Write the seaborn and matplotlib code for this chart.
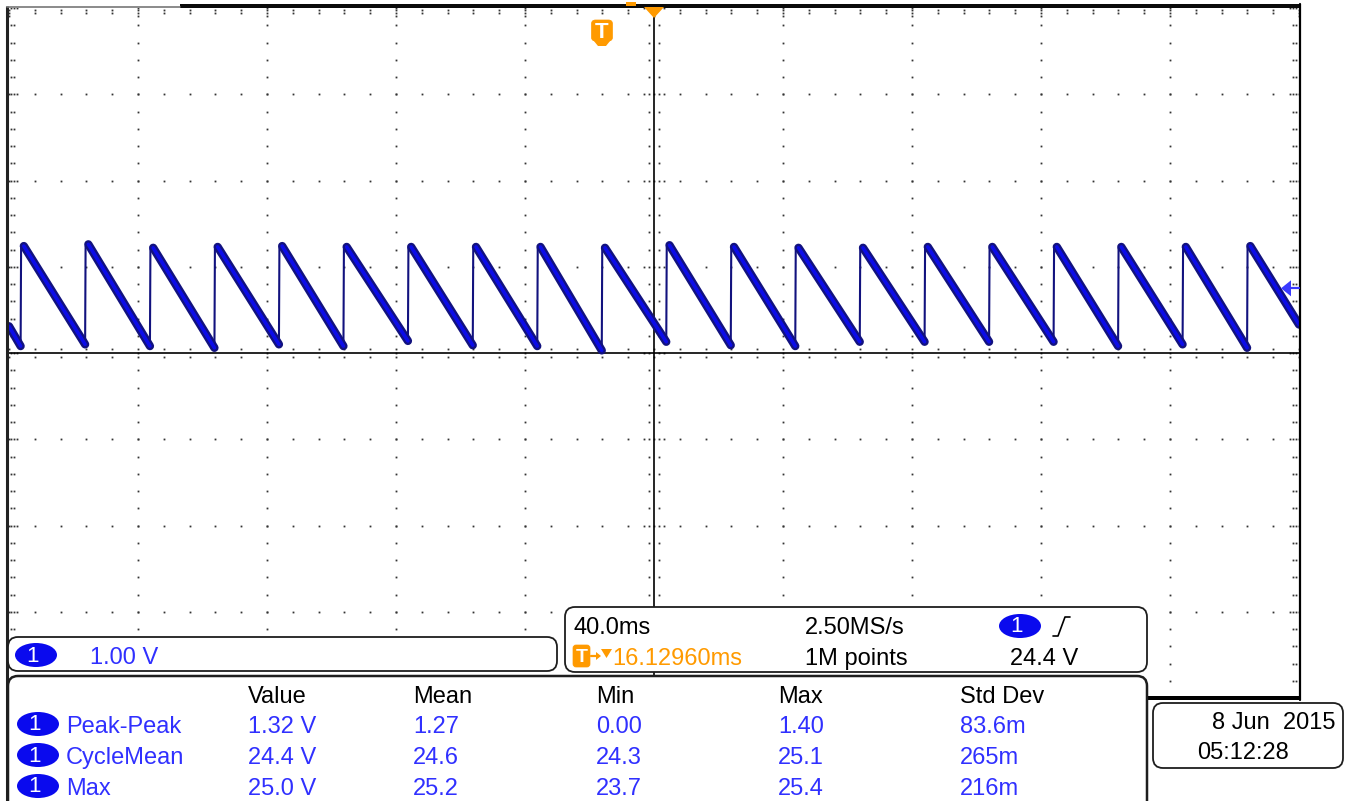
import numpy as np
import pandas as pd
import matplotlib
matplotlib.use("Agg")
import matplotlib.pyplot as plt
import seaborn as sns
from matplotlib.patches import FancyBboxPatch, Ellipse, Polygon, Rectangle

# ---------------- data ----------------
# rising-edge times of the sawtooth (ms, relative to screen centre)
edge_t_ms = [-196.4, -176.4, -156.3, -136.3, -116.3, -96.3, -76.3, -56.2, -36.2, -16.2,
             3.8, 23.8, 43.8, 63.8, 83.9, 103.9, 123.9, 143.9, 163.9, 183.9]
# trace level right after each rising edge (V)
peak_v = [24.89, 24.91, 24.87, 24.88, 24.89, 24.88, 24.88, 24.88, 24.88, 24.87,
          24.90, 24.88, 24.87, 24.87, 24.88, 24.88, 24.88, 24.88, 24.88, 24.89]
# trace level just before each rising edge (V)
trough_v = [23.73, 23.75, 23.73, 23.71, 23.75, 23.73, 23.79, 23.74, 23.73, 23.68,
            23.78, 23.74, 23.73, 23.78, 23.78, 23.78, 23.78, 23.73, 23.75, 23.71]
start_v = 23.96   # level at left screen edge
end_v = 23.98     # level at right screen edge

center_v = 23.65      # screen centre level (V)
volts_per_div = 1.00
ms_per_div = 40.0
n_xdiv, n_ydiv = 10, 8
trig_level_v = 24.4
trig_pos_ms = -16.1296

ch_scale = "1.00 V"
tb_scale = "40.0ms"
tb_rate = "2.50MS/s"
tb_delay = "16.12960ms"
tb_points = "1M points"
trig_text = "24.4 V"
date_text = "8 Jun  2015"
time_text = "05:12:28"

meas_names = ["Peak-Peak", "CycleMean", "Max"]
meas_headers = ["Value", "Mean", "Min", "Max", "Std Dev"]
meas_value = ["1.32 V", "24.4 V", "25.0 V"]
meas_mean = ["1.27", "24.6", "25.2"]
meas_min = ["0.00", "24.3", "23.7"]
meas_max = ["1.40", "25.1", "25.4"]
meas_std = ["83.6m", "265m", "216m"]

# ---------------- style ----------------
sns.set_theme(style="white")
FONT = ["Liberation Sans", "DejaVu Sans"]
plt.rcParams["font.family"] = FONT

TRACE_DARK = "#12127e"
TRACE_MID = "#0c0ce8"
TXT_BLUE = "#3030ff"
BADGE = "#0a0aee"
ORANGE = "#ff9a00"
DOT = "#333333"

W, H = 1349, 801
AX_L, AX_R, AX_T, AX_B = 9, 1299, 8, 698

fig = plt.figure(figsize=(W / 100, H / 100), dpi=100)
fig.patch.set_facecolor("white")
ax = fig.add_axes([AX_L / W, 1 - AX_B / H, (AX_R - AX_L) / W, (AX_B - AX_T) / H])
t0, t1 = -ms_per_div * n_xdiv / 2, ms_per_div * n_xdiv / 2
v0, v1 = center_v - volts_per_div * n_ydiv / 2, center_v + volts_per_div * n_ydiv / 2
sx = (t1 - t0) / (AX_R - AX_L)   # ms per pixel
sy = (v1 - v0) / (AX_B - AX_T)   # V per pixel

# ---------------- graticule ----------------
minor_t = np.arange(t0, t1 + 1e-6, ms_per_div / 5)
minor_v = np.arange(v0, v1 + 1e-6, volts_per_div / 5)
major_t = np.arange(t0 + ms_per_div, t1 - 1e-6, ms_per_div)
major_v = np.arange(v0 + volts_per_div, v1 - 1e-6, volts_per_div)
gx, gy = [], []
for t in major_t:
    if abs(t) > 1e-6:
        gx += [t] * len(minor_v); gy += list(minor_v)
for v in major_v:
    if abs(v - center_v) > 1e-6:
        gx += list(minor_t); gy += [v] * len(minor_t)
# centre-axis ticks
for t in minor_t:
    for o in (-4, 4):
        gx.append(t); gy.append(center_v + o * sy)
for v in minor_v:
    offs = (-5, 5, -10, 10) if abs(((v - v0) / volts_per_div) - round((v - v0) / volts_per_div)) < 1e-6 else (-5, 5)
    for o in offs:
        gx.append(o * sx); gy.append(v)
# edge ticks
for v in minor_v:
    is_major = abs(((v - v0) / volts_per_div) - round((v - v0) / volts_per_div)) < 1e-6
    for o in ((1.5, 4.5, 7.5) if is_major else (1.5, 4.5)):
        gx.append(t0 + o * sx); gy.append(v)
        gx.append(t1 - (o + 2) * sx); gy.append(v)
for t in minor_t:
    is_major = abs(((t - t0) / ms_per_div) - round((t - t0) / ms_per_div)) < 1e-6
    for o in ((2, 5, 8) if is_major else (2, 5)):
        gx.append(t); gy.append(v1 - o * sy)
ax.plot(gx, gy, ls="none", marker="s", ms=1.3, mew=0, color=DOT, zorder=1)
ax.axhline(center_v, color="black", lw=1.2, zorder=2)
ax.axvline(0, color="black", lw=1.2, zorder=2)

# ---------------- waveform ----------------
rise_dt = 1.0
fall_rows, rise_rows = [], []
fall_rows += [(t0, start_v, 0), (edge_t_ms[0], trough_v[0], 0)]
for k in range(len(edge_t_ms)):
    nxt_t = edge_t_ms[k + 1] if k + 1 < len(edge_t_ms) else t1
    nxt_v = trough_v[k + 1] if k + 1 < len(edge_t_ms) else end_v
    fall_rows += [(edge_t_ms[k] + rise_dt, peak_v[k], k + 1), (nxt_t, nxt_v, k + 1)]
    rise_rows += [(edge_t_ms[k], trough_v[k], k), (edge_t_ms[k] + 0.15, peak_v[k] - 0.02, k),
                  (edge_t_ms[k] + rise_dt, peak_v[k], k)]
fall_df = pd.DataFrame(fall_rows, columns=["t", "v", "seg"])
rise_df = pd.DataFrame(rise_rows, columns=["t", "v", "seg"])

sns.lineplot(data=rise_df, x="t", y="v", units="seg", estimator=None, sort=False,
             color=TRACE_DARK, lw=1.5, ax=ax, legend=False, zorder=3)
sns.lineplot(data=fall_df, x="t", y="v", units="seg", estimator=None, sort=False,
             color=TRACE_DARK, lw=6.0, ax=ax, legend=False, zorder=4,
             solid_capstyle="round")
sns.lineplot(data=fall_df, x="t", y="v", units="seg", estimator=None, sort=False,
             color=TRACE_MID, lw=2.6, ax=ax, legend=False, zorder=5,
             solid_capstyle="round")

ax.set_xlim(t0, t1)
ax.set_ylim(v0, v1)
ax.set_xlabel("")
ax.set_ylabel("")
ax.set_xticks([])
ax.set_yticks([])
for s in ax.spines.values():
    s.set_visible(False)
ax.set_facecolor("white")

# ---------------- overlay (pixel coordinates) ----------------
ov = fig.add_axes([0, 0, 1, 1])
ov.set_xlim(0, W)
ov.set_ylim(H, 0)
ov.axis("off")
ov.patch.set_alpha(0)

def px_x(t):
    return AX_L + (t - t0) / sx

def px_y(v):
    return AX_T + (v1 - v) / sy

# frame
ov.plot([6.5, 6.5], [6, H], color="#222222", lw=2.2, solid_capstyle="butt")
ov.plot([6.5, 180], [6.5, 6.5], color="#777777", lw=1.2)
ov.add_patch(Rectangle((180, 3.5), AX_R + 1 - 180, 4.2, color="#0a0a0a", lw=0))
ov.add_patch(Rectangle((626, 2.2), 10, 4, color=ORANGE, lw=0))
ov.plot([AX_R + 0.5, AX_R + 0.5], [4, AX_B + 2], color="black", lw=1.6)
ov.add_patch(Rectangle((9, AX_B - 2.5), AX_R - 9 + 1.5, 4.5, color="black", lw=0))

# trigger position markers
cx = px_x(0)
ov.add_patch(Polygon([(cx - 10, 7), (cx + 10, 7), (cx, 18)], closed=True, color=ORANGE, lw=0))
tx = px_x(trig_pos_ms)
ov.add_patch(FancyBboxPatch((tx - 10.5, 20), 21, 21, boxstyle="round,pad=0,rounding_size=4",
                            fc=ORANGE, ec=ORANGE, lw=0.5))
ov.add_patch(Polygon([(tx - 10.5, 38), (tx + 10.5, 38), (tx + 4, 46), (tx - 4, 46)],
                     closed=True, color=ORANGE, lw=0))
ov.text(tx, 33, "T", color="white", fontsize=16, fontweight="bold", ha="center",
        va="center", family=FONT)

# trigger level arrow (right)
ty = px_y(trig_level_v)
ov.add_patch(Polygon([(1281, ty), (1291, ty - 8), (1291, ty + 8)], closed=True,
                     color="#3a3aff", lw=0))
ov.plot([1290, AX_R], [ty, ty], color="#3a3aff", lw=1.6)

BOX_EC = "#1e1e1e"

def rbox(x0, y0, x1, y1, lw=1.3, r=10):
    ov.add_patch(FancyBboxPatch((x0, y0), x1 - x0, y1 - y0,
                                boxstyle=f"round,pad=0,rounding_size={r}",
                                fc="white", ec=BOX_EC, lw=lw, zorder=5))

def badge(cx_, cy_, w=42, h=24):
    ov.add_patch(Ellipse((cx_, cy_), w, h, color=BADGE, lw=0, zorder=6))
    ov.text(cx_ - 3, cy_ + 1, "1", color="white", fontsize=16, ha="center", va="center",
            family=FONT, zorder=7)

FS = 17
# measurement box
rbox(8, 676, 1147, 812, lw=1.8)
# channel box
rbox(8, 637, 557, 671)
badge(36, 655)
ov.text(90, 664, ch_scale, color=TXT_BLUE, fontsize=FS, ha="left", va="baseline",
        family=FONT, zorder=7)
# timebase box
rbox(565, 607, 1147, 672)
ov.text(573, 634, tb_scale, color="black", fontsize=FS, ha="left", va="baseline", family=FONT, zorder=7)
ov.text(805, 634, tb_rate, color="black", fontsize=FS, ha="left", va="baseline", family=FONT, zorder=7)
badge(1020, 626)
ov.plot([1053, 1058, 1065, 1070], [636, 636, 617, 617], color="black", lw=1.2, zorder=7)
ov.add_patch(FancyBboxPatch((573, 645), 17, 22, boxstyle="round,pad=0,rounding_size=3",
                            fc=ORANGE, ec=ORANGE, lw=0.5, zorder=6))
ov.text(581.5, 657, "T", color="white", fontsize=14, fontweight="bold", ha="center",
        va="center", family=FONT, zorder=7)
ov.plot([591, 598], [656, 656], color=ORANGE, lw=1.6, zorder=7)
ov.add_patch(Polygon([(596, 652), (601, 656), (596, 660)], closed=True, color=ORANGE,
                     lw=0, zorder=7))
ov.add_patch(Polygon([(601, 649), (612, 649), (606.5, 658)], closed=True, color=ORANGE,
                     lw=0, zorder=7))
ov.text(612, 665, tb_delay, color=ORANGE, fontsize=FS, ha="left", va="baseline", family=FONT, zorder=7)
ov.text(805, 665, tb_points, color="black", fontsize=FS, ha="left", va="baseline", family=FONT, zorder=7)
ov.text(1010, 665, trig_text, color="black", fontsize=FS, ha="left", va="baseline", family=FONT, zorder=7)

# measurement table
col_x = [248, 413, 596, 778, 960]
for x, h in zip(col_x, meas_headers):
    ov.text(x, 703, h, color="black", fontsize=FS, ha="left", va="baseline", family=FONT, zorder=7)
row_base = [733, 764, 795]
cols = [meas_value, meas_mean, meas_min, meas_max, meas_std]
for i, name in enumerate(meas_names):
    yb = row_base[i]
    badge(38, yb - 9)
    ov.text(66, yb, name, color=TXT_BLUE, fontsize=FS, ha="left", va="baseline", family=FONT, zorder=7)
    for x, col in zip(col_x, cols):
        ov.text(x, yb, col[i], color=TXT_BLUE, fontsize=FS, ha="left", va="baseline",
                family=FONT, zorder=7)

# date box
rbox(1153, 703, 1343, 768)
ov.text(1336, 729, date_text, color="black", fontsize=FS, ha="right", va="baseline", family=FONT, zorder=7)
ov.text(1197, 759, time_text, color="black", fontsize=FS, ha="left", va="baseline", family=FONT, zorder=7)

fig.savefig("out.png", dpi=100, facecolor="white")
